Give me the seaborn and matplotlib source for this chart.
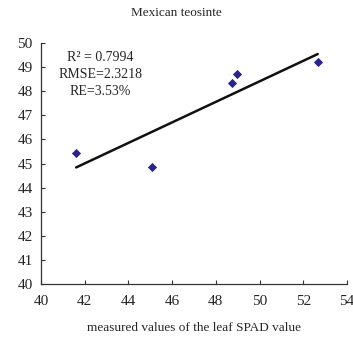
import numpy as np
import pandas as pd
import matplotlib
matplotlib.use("Agg")
import matplotlib.pyplot as plt
import seaborn as sns

measured = [41.61, 45.06, 48.74, 48.95, 52.66]
predicted = [45.42, 44.87, 48.33, 48.70, 49.21]
x_ticks = [40, 42, 44, 46, 48, 50, 52, 54]
y_ticks = [40, 41, 42, 43, 44, 45, 46, 47, 48, 49, 50]
stats_text = ["R\u00b2 = 0.7994", "RMSE=2.3218", "RE=3.53%"]

sns.set_style("ticks")
plt.rcParams['font.family'] = ['Liberation Serif', 'DejaVu Serif']

df = pd.DataFrame({"measured": measured, "predicted": predicted})

fig = plt.figure(figsize=(3.53, 3.39), dpi=100)
ax = fig.add_axes([0.116, 0.162, 0.867, 0.711])

sns.regplot(data=df, x="measured", y="predicted", ax=ax, ci=None, marker="D",
            scatter_kws=dict(s=22, color="#2b2385", alpha=1, linewidths=0, zorder=3),
            line_kws=dict(color="#111111", lw=1.8))

ax.set_xlim(40, 54)
ax.set_ylim(40, 50)
ax.set_xticks(x_ticks)
ax.set_yticks(y_ticks)
ax.tick_params(labelsize=11, length=3, width=0.8, direction="in", color="#333333")
ax.tick_params(axis="x", pad=8)
ax.tick_params(axis="y", pad=6)
for s in ["top", "right"]:
    ax.spines[s].set_visible(False)
for s in ["left", "bottom"]:
    ax.spines[s].set_linewidth(0.9)
    ax.spines[s].set_color("#333333")

ax.set_xlabel("measured values of the leaf SPAD value", fontsize=9.5, labelpad=10)
ax.set_ylabel("")
fig.text(0.5, 0.962, "Mexican teosinte", ha="center", va="center", fontsize=9.5)

ys = [0.94, 0.87, 0.80]
for t, yy in zip(stats_text, ys):
    ax.text(0.195, yy, t, transform=ax.transAxes, ha="center", va="center", fontsize=10)

fig.savefig("out.png", dpi=100)
